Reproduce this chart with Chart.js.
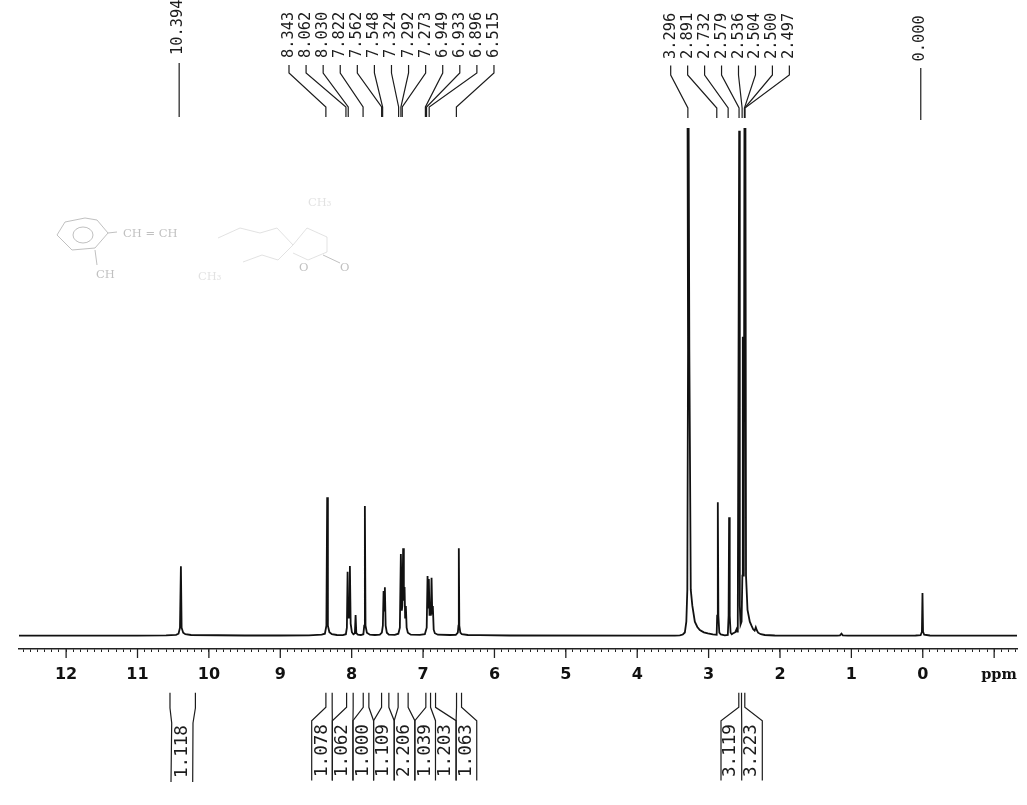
<!DOCTYPE html>
<html><head><meta charset="utf-8">
<style>html,body{margin:0;padding:0;background:#fff;overflow:hidden}#w{position:absolute;left:0;top:0;width:1027px;height:805px}canvas{filter:blur(0.35px)}</style>
<script src="https://cdn.jsdelivr.net/npm/chart.js@4"></script></head><body><div id="w"><canvas id="c" width="1027" height="805"></canvas></div>
<script>
// Spectrum trace, [chemical shift in ppm, intensity]
const traceAcid=[[12.66,0],[11,0],[10.6,0.3],[10.46,0.8],[10.425,2],[10.405,8],[10.392,69.5],[10.382,8],[10.36,3],[10.33,1.5],[10.25,0.7],[9.5,0.2],[9,0.2],[8.6,0.4]];
const traceAroA=[[8.42,1],[8.375,2],[8.354,10],[8.343,138.4],[8.333,10],[8.312,3.5],[8.277,1.5],[8.207,0.7],[8.123,0.6],[8.081,1.5],[8.067,8],[8.057,64],[8.045,18],[8.036,18],[8.025,69.7],[8.014,12],[7.997,3.5],[7.976,1.5],[7.955,2.5],[7.945,20.7],[7.935,2.5],[7.913,1],[7.871,0.7],[7.836,1.5],[7.824,10],[7.815,129.7],[7.806,10],[7.787,3],[7.745,1],[7.675,0.7]];
const traceAroB=[[7.605,1],[7.577,3],[7.563,10],[7.553,44.7],[7.543,25],[7.535,48.4],[7.524,10],[7.507,3],[7.479,1],[7.395,0.8],[7.346,2],[7.325,8],[7.311,81.7],[7.298,25],[7.29,30],[7.279,87.4],[7.269,35],[7.259,48.7],[7.251,18],[7.241,29.7],[7.23,8],[7.213,3],[7.171,1],[7.045,0.8]];
const traceAroC=[[6.975,1.5],[6.949,8],[6.937,59.7],[6.927,28],[6.919,56.7],[6.909,20],[6.9,32.7],[6.891,20],[6.881,58],[6.871,22],[6.863,29.7],[6.851,6],[6.835,2.5],[6.793,1],[6.625,0.7],[6.541,0.8],[6.513,3],[6.504,10],[6.499,87.4],[6.492,10],[6.478,3],[6.457,1.5],[6.373,0.7],[6.204,0.5],[5.784,0.2],[3.824,0]];
const traceWater=[[3.473,0],[3.403,0.4],[3.361,1.2],[3.333,3.2],[3.312,14],[3.298,46],[3.288,286],[3.295,520],[3.28,520],[3.27,286],[3.25,46],[3.228,30],[3.193,14],[3.158,8.7],[3.123,5.7],[3.067,3.4],[3.011,2.4],[2.941,1.4]];
const traceDmso=[[2.887,1],[2.88,20],[2.871,133.4],[2.863,20],[2.85,3],[2.829,1.2],[2.773,0.3],[2.731,0.8],[2.72,20],[2.713,118.4],[2.704,20],[2.692,3],[2.675,1.5],[2.657,2.4],[2.64,3],[2.626,3.5],[2.609,6.4],[2.601,4],[2.591,20],[2.572,505],[2.563,30],[2.553,11],[2.538,14],[2.527,60],[2.521,299],[2.514,60],[2.507,80],[2.498,520],[2.484,520],[2.476,60],[2.455,25.7],[2.423,14],[2.399,10],[2.376,6.4],[2.355,5],[2.339,8.4],[2.325,5.5],[2.307,3],[2.269,1.5],[2.213,0.7],[2.073,0.2],[1.863,0]];
const traceRef=[[1.2,0.1],[1.16,0.4],[1.139,2],[1.12,0.4],[1.05,0.1],[0.5,0],[0.1,0.2],[0.03,0.5],[0.012,4],[0.004,42.7],[-0.004,4],[-0.02,1],[-0.1,0.2],[-0.6,0],[-1.32,0]];
const axisMin=-1.32, axisMax=12.66, tickEvery=0.1;
const shiftsLeft=["8.343","8.062","8.030","7.822","7.562","7.548","7.324","7.292","7.273","6.949","6.933","6.896","6.515"];
const shiftsRight=["3.296","2.891","2.732","2.579","2.536","2.504","2.500","2.497"];
const shiftAcid=["10.394"];
const shiftRef=["0.000"];
const integralValues=["1.078","1.062","1.000","1.109","2.206","1.039","1.203","1.063"];
const integralEdges=[8.361,8.273,8.071,7.979,7.838,7.759,7.581,7.479,7.349,7.209,6.961,6.895,6.825,6.531,6.461];
const solventValues=["3.119","3.223"];
const solventEdges=[2.577,2.539,2.493];
const acidValue=["1.118"];
const acidEdges=[10.545,10.189];

const mono='"DejaVu Sans Mono"', INK='#1c1c1c';
function vtext(ctx,t,x,y,size){ctx.save();ctx.translate(x,y);ctx.rotate(-Math.PI/2);ctx.font=size+'px '+mono;ctx.textAlign='left';ctx.textBaseline='middle';ctx.fillStyle=INK;ctx.fillText(t,0,0);ctx.restore();}
function poly(ctx,p,w,col){ctx.beginPath();ctx.lineWidth=w||1.2;ctx.strokeStyle=col||INK;p.forEach((q,i)=>i?ctx.lineTo(q[0],q[1]):ctx.moveTo(q[0],q[1]));ctx.stroke();}

const annotations={id:'annotations',afterDraw(chart){
 const ctx=chart.ctx,X=chart.scales.x;
 X.ticks.forEach(t=>{if(Math.abs(t.value-Math.round(t.value))<1e-6){const px=X.getPixelForValue(t.value);poly(ctx,[[px,X.top],[px,X.top+9]],1.3,'#222');}});
 ctx.save();
 shiftsLeft.forEach((s,i)=>{const lx=289+17.08*i,px=X.getPixelForValue(+s)-1.3;
  vtext(ctx,s,lx,58,15.4);
  poly(ctx,[[lx,65],[lx,73],[px,107],[px,117]]);});
 shiftsRight.forEach((s,i)=>{const lx=670.7+16.95*i,px=X.getPixelForValue(+s)+0.4;
  vtext(ctx,s,lx,59,15.4);
  poly(ctx,[[lx,65.5],[lx,75],[px,108],[px,118]]);});
 shiftAcid.forEach(s=>{const px=X.getPixelForValue(+s)-1.6;vtext(ctx,s,px-1,55,15.4);poly(ctx,[[px,63],[px,117]]);});
 shiftRef.forEach(s=>{const px=X.getPixelForValue(+s)-2;vtext(ctx,s,px-1,61.5,15.4);poly(ctx,[[px,68],[px,120]]);});
 const top=692.7,b1=707.3,b2=720.7,bot=780.5;
 const e=k=>311.7+20.63*k, map=[0,1,1,2,2,3,3,4,4,5,5,6,7,7,8];
 integralEdges.forEach((p,i)=>{const px=X.getPixelForValue(p);
  poly(ctx,[[px,top],[px,b1],[e(map[i]),b2],[e(map[i]),bot]]);});
 integralValues.forEach((s,i)=>vtext(ctx,s,e(i)+10.3,777,17.6));
 const sb=[721,741.7,762.3];
 solventEdges.forEach((p,i)=>{const px=X.getPixelForValue(p);poly(ctx,[[px,top],[px,b1],[sb[i],b2],[sb[i],bot]]);});
 solventValues.forEach((s,i)=>vtext(ctx,s,730.9+21*i,777,17.6));
 const ab=[[171.7,171],[193,192.7]];
 acidEdges.forEach((p,i)=>{const px=X.getPixelForValue(p);poly(ctx,[[px,top],[px,708],[ab[i][0],723],[ab[i][1],782]]);});
 acidValue.forEach(s=>vtext(ctx,s,182,778,17.6));
 ctx.font='bold 14.5px "DejaVu Serif"';ctx.textAlign='center';ctx.textBaseline='middle';ctx.fillStyle='#111';ctx.fillText('ppm',999,675);
 // faint pencil sketch of the structure
 const pc='rgba(150,150,150,0.6)',pc2='rgba(190,190,190,0.45)';
 poly(ctx,[[57,235],[65,222],[85,218],[97,220],[108,233],[95,248],[72,250],[57,235]],1,pc);
 ctx.beginPath();ctx.lineWidth=1;ctx.strokeStyle=pc;ctx.ellipse(83,235,10,8,0,0,7);ctx.stroke();
 poly(ctx,[[108,233],[117,232]],1,pc);poly(ctx,[[95,250],[97,265]],1,pc);
 ctx.font='11.5px "DejaVu Serif"';ctx.fillStyle=pc;ctx.textAlign='left';ctx.fillText('CH = CH',123,234);ctx.fillText('CH',96,275);
 ctx.fillStyle=pc2;ctx.fillText('CH\u2083',198,277);ctx.fillText('CH\u2083',308,203);
 poly(ctx,[[218,238],[240,228],[260,233],[277,228],[293,245],[278,260],[262,255],[243,262]],1,pc2);
 poly(ctx,[[293,245],[307,228],[327,237],[327,252],[308,260],[293,253]],1,pc2);
 poly(ctx,[[323,255],[340,263]],1,pc);
 ctx.fillStyle=pc;ctx.fillText('O',299,268);ctx.fillText('O',340,268);
 ctx.restore();
}};

const allPoints=[...traceAcid,...traceAroA,...traceAroB,...traceAroC,...traceWater,...traceDmso,...traceRef];
new Chart(document.getElementById('c'),{type:'line',
 data:{datasets:[{data:allPoints.map(p=>({x:p[0],y:p[1]})),borderColor:'#111',borderWidth:1.8,pointRadius:0,tension:0,fill:false,parsing:false,borderJoinStyle:'miter'}]},
 plugins:[annotations],
 options:{responsive:false,animation:false,devicePixelRatio:1,
  layout:{padding:{left:19,right:10,top:128,bottom:0}},
  plugins:{legend:{display:false},tooltip:{enabled:false},title:{display:false}},
  scales:{
   y:{display:false,min:-13.3,max:507.7},
   x:{type:'linear',reverse:true,min:axisMin,max:axisMax,
    afterFit(s){s.height=156;},
    afterBuildTicks(s){const out=[];for(let v=Math.ceil(axisMin/tickEvery);v*tickEvery<=axisMax;v++){out.push({value:+(v*tickEvery).toFixed(1)});}s.ticks=out;},
    border:{display:true,color:'#222',width:1.4},
    grid:{drawOnChartArea:false,drawTicks:true,tickLength:3,tickColor:'#222',tickWidth:1},
    ticks:{autoSkip:false,maxRotation:0,minRotation:0,padding:13,color:'#111',font:{family:'"DejaVu Sans"',weight:'bold',size:16},
     callback(v){return v>=0&&Math.abs(v-Math.round(v))<1e-6?String(Math.round(v)):'';}}
   }
  }
 }
});
</script></body></html>
